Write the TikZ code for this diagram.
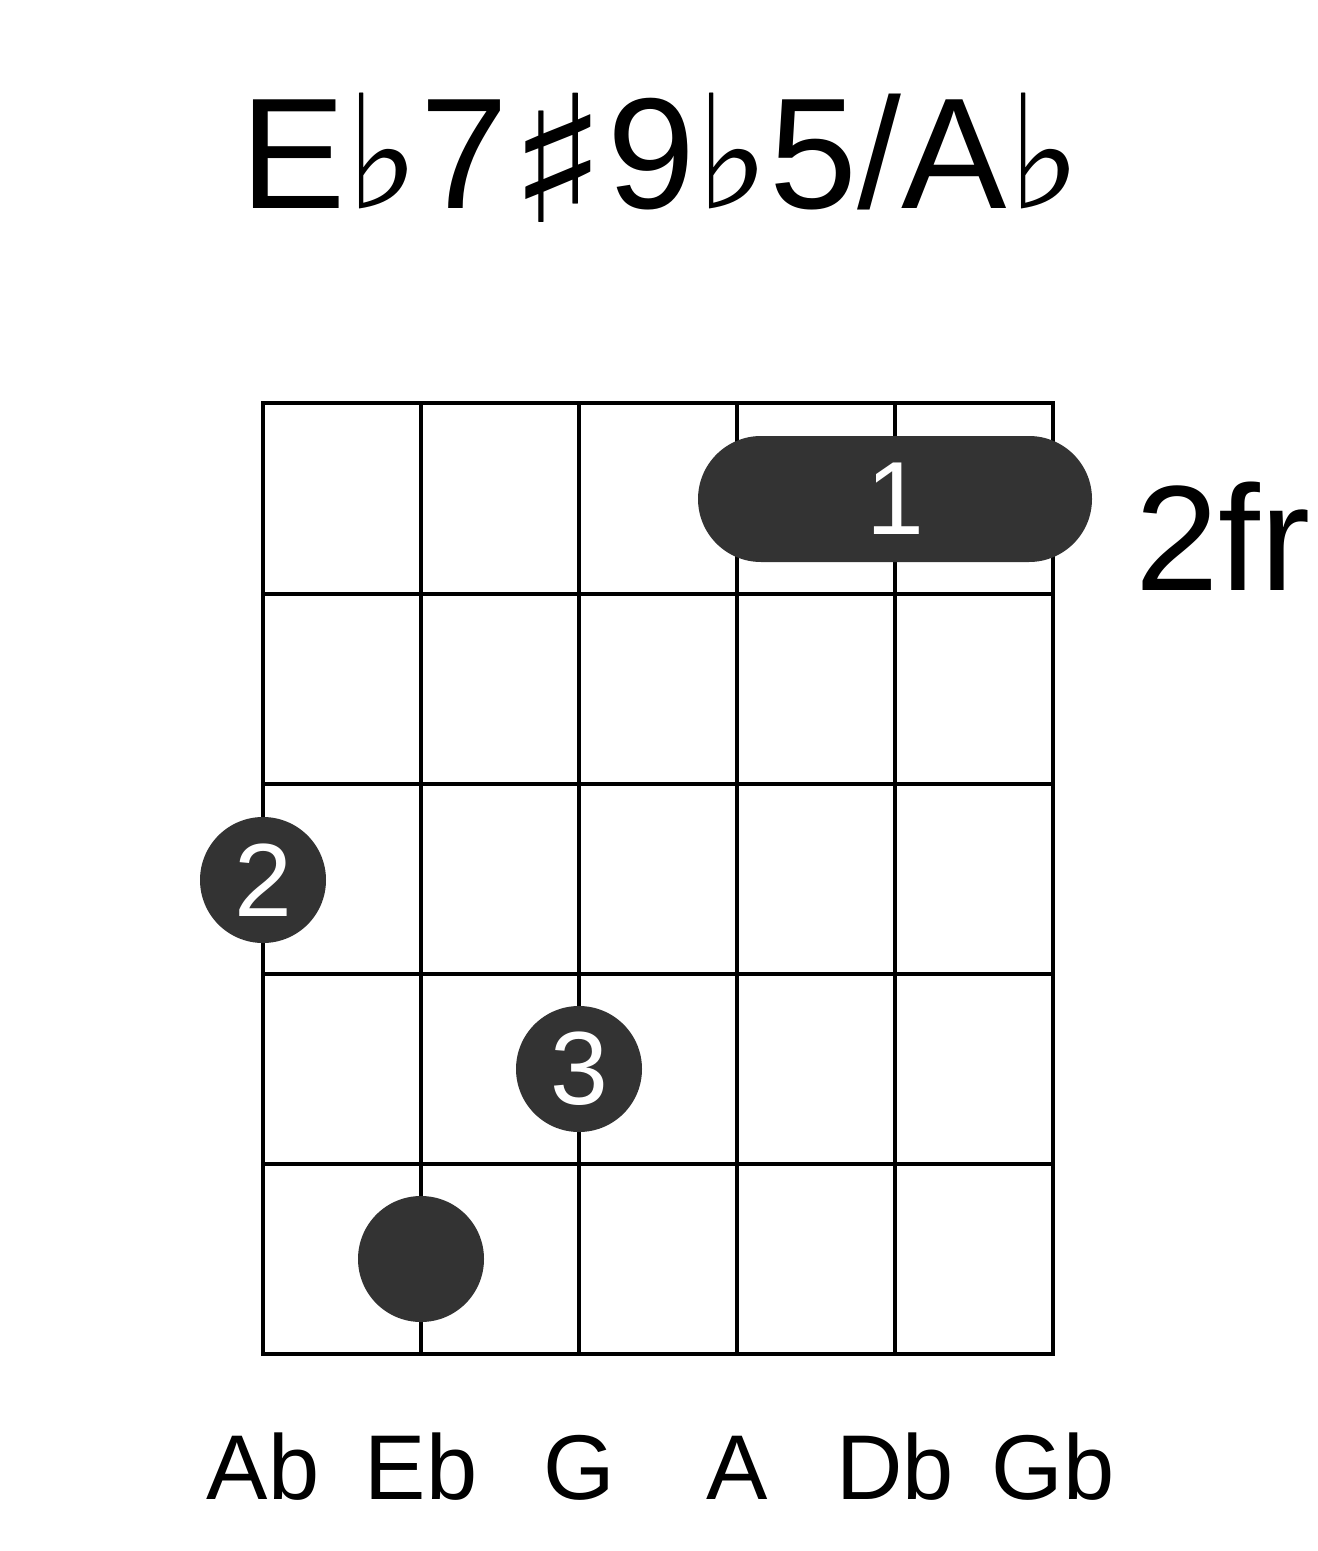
\documentclass[tikz,border=0pt]{standalone}
\usepackage{fontspec}
\setmainfont{Liberation Sans}
\newfontfamily\accfont{DejaVu Sans}
\usetikzlibrary{shapes.misc}

\definecolor{dotgray}{HTML}{333333}

\begin{document}
\begin{tikzpicture}[x=0.5pt,y=-0.5pt]
\tikzset{
  gridline/.style={draw=black,line width=2pt,line cap=rect},
  fingerdot/.style={circle,fill=dotgray,minimum size=63pt,inner sep=0pt,text=white,font=\fontsize{52pt}{52pt}\selectfont},
  barre/.style={rounded rectangle,fill=dotgray,minimum width=197pt,minimum height=63pt,inner sep=0pt,text=white,font=\fontsize{52pt}{52pt}\selectfont},
  notename/.style={anchor=base,font=\fontsize{46pt}{46pt}\selectfont}
}
\useasboundingbox (0,0) rectangle (1317,1551);
% title
\node[anchor=base,inner sep=0pt,font=\fontsize{79pt}{79pt}\selectfont] (title) at (661,209)
  {E{\accfont ♭}7\raisebox{-7pt}{\scalebox{1.3}[1.12]{\accfont ♯}}9{\accfont ♭}5/A{\accfont ♭}};
% strings
\draw[gridline] (263,403) -- (263,1354);
\draw[gridline] (421,403) -- (421,1354);
\draw[gridline] (579,403) -- (579,1354);
\draw[gridline] (737,403) -- (737,1354);
\draw[gridline] (895,403) -- (895,1354);
\draw[gridline] (1053,403) -- (1053,1354);
% frets
\draw[gridline] (263,403) -- (1053,403);
\draw[gridline] (263,594) -- (1053,594);
\draw[gridline] (263,784) -- (1053,784);
\draw[gridline] (263,974) -- (1053,974);
\draw[gridline] (263,1164) -- (1053,1164);
\draw[gridline] (263,1354) -- (1053,1354);
% fingers
\node[barre] (f1) at (895,499) {1};
\node[fingerdot] (f2) at (263,880) {2};
\node[fingerdot] (f3) at (579,1069) {3};
\node[fingerdot] (f4) at (421,1259) {};
% fret position
\node[anchor=base west,inner sep=0pt,font=\fontsize{75pt}{75pt}\selectfont] (pos) at (1135,590) {2fr};
% tuning
\node[notename] (s1) at (263,1499) {Ab};
\node[notename] (s2) at (421,1499) {Eb};
\node[notename] (s3) at (579,1499) {G};
\node[notename] (s4) at (737,1499) {A};
\node[notename] (s5) at (895,1499) {Db};
\node[notename] (s6) at (1053,1499) {Gb};
\end{tikzpicture}
\end{document}
